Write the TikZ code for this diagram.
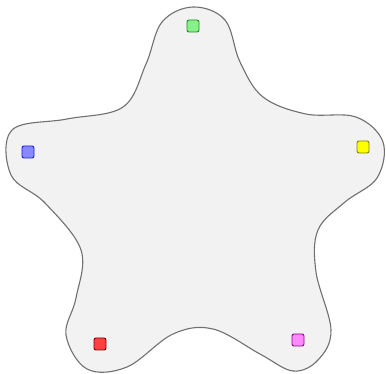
\documentclass[tikz,border=0pt]{standalone}
\usepackage{tikz}
\definecolor{blobfill}{HTML}{F2F2F2}
\definecolor{blobline}{HTML}{707070}
\begin{document}
\begin{tikzpicture}[x=1pt, y=-1pt,
        marker/.style={rectangle, rounded corners=2pt, minimum size=12pt, inner sep=0pt, line width=0.9pt}]
        \useasboundingbox (0,0) rectangle (386,374);
        \draw[blobline, fill=blobfill, line width=1.1pt] plot[smooth cycle, tension=0.6] coordinates {
            (193,7) (225,20) (240,62) (263,97) (306,114) (356,117) (383,142)
            (377,178) (345,202) (318,230) (316,272) (331,330) (318,360) (293,371) (260,354) (213,329)
            (173,334) (127,367) (87,369) (66,335) (76,298) (81,250) (45,203) (11,175)
            (12,130) (67,119) (123,107) (146,64) (162,22)};
        \node at (193,26) (top) [marker, draw={rgb,255:red,34;green,140;blue,34}, fill={rgb,255:red,136;green,240;blue,136}] {};
        \node at (28,152) (left) [marker, draw={rgb,255:red,30;green,30;blue,240}, fill={rgb,255:red,136;green,136;blue,255}] {};
        \node at (363,147) (right) [marker, draw={rgb,255:red,130;green,130;blue,0}, fill={rgb,255:red,255;green,255;blue,0}] {};
        \node at (100,344) (botleft) [marker, draw={rgb,255:red,130;green,0;blue,0}, fill={rgb,255:red,255;green,64;blue,64}] {};
        \node at (298,340) (botright) [marker, draw={rgb,255:red,150;green,0;blue,150}, fill={rgb,255:red,255;green,136;blue,255}] {};
    \end{tikzpicture}
\end{document}
